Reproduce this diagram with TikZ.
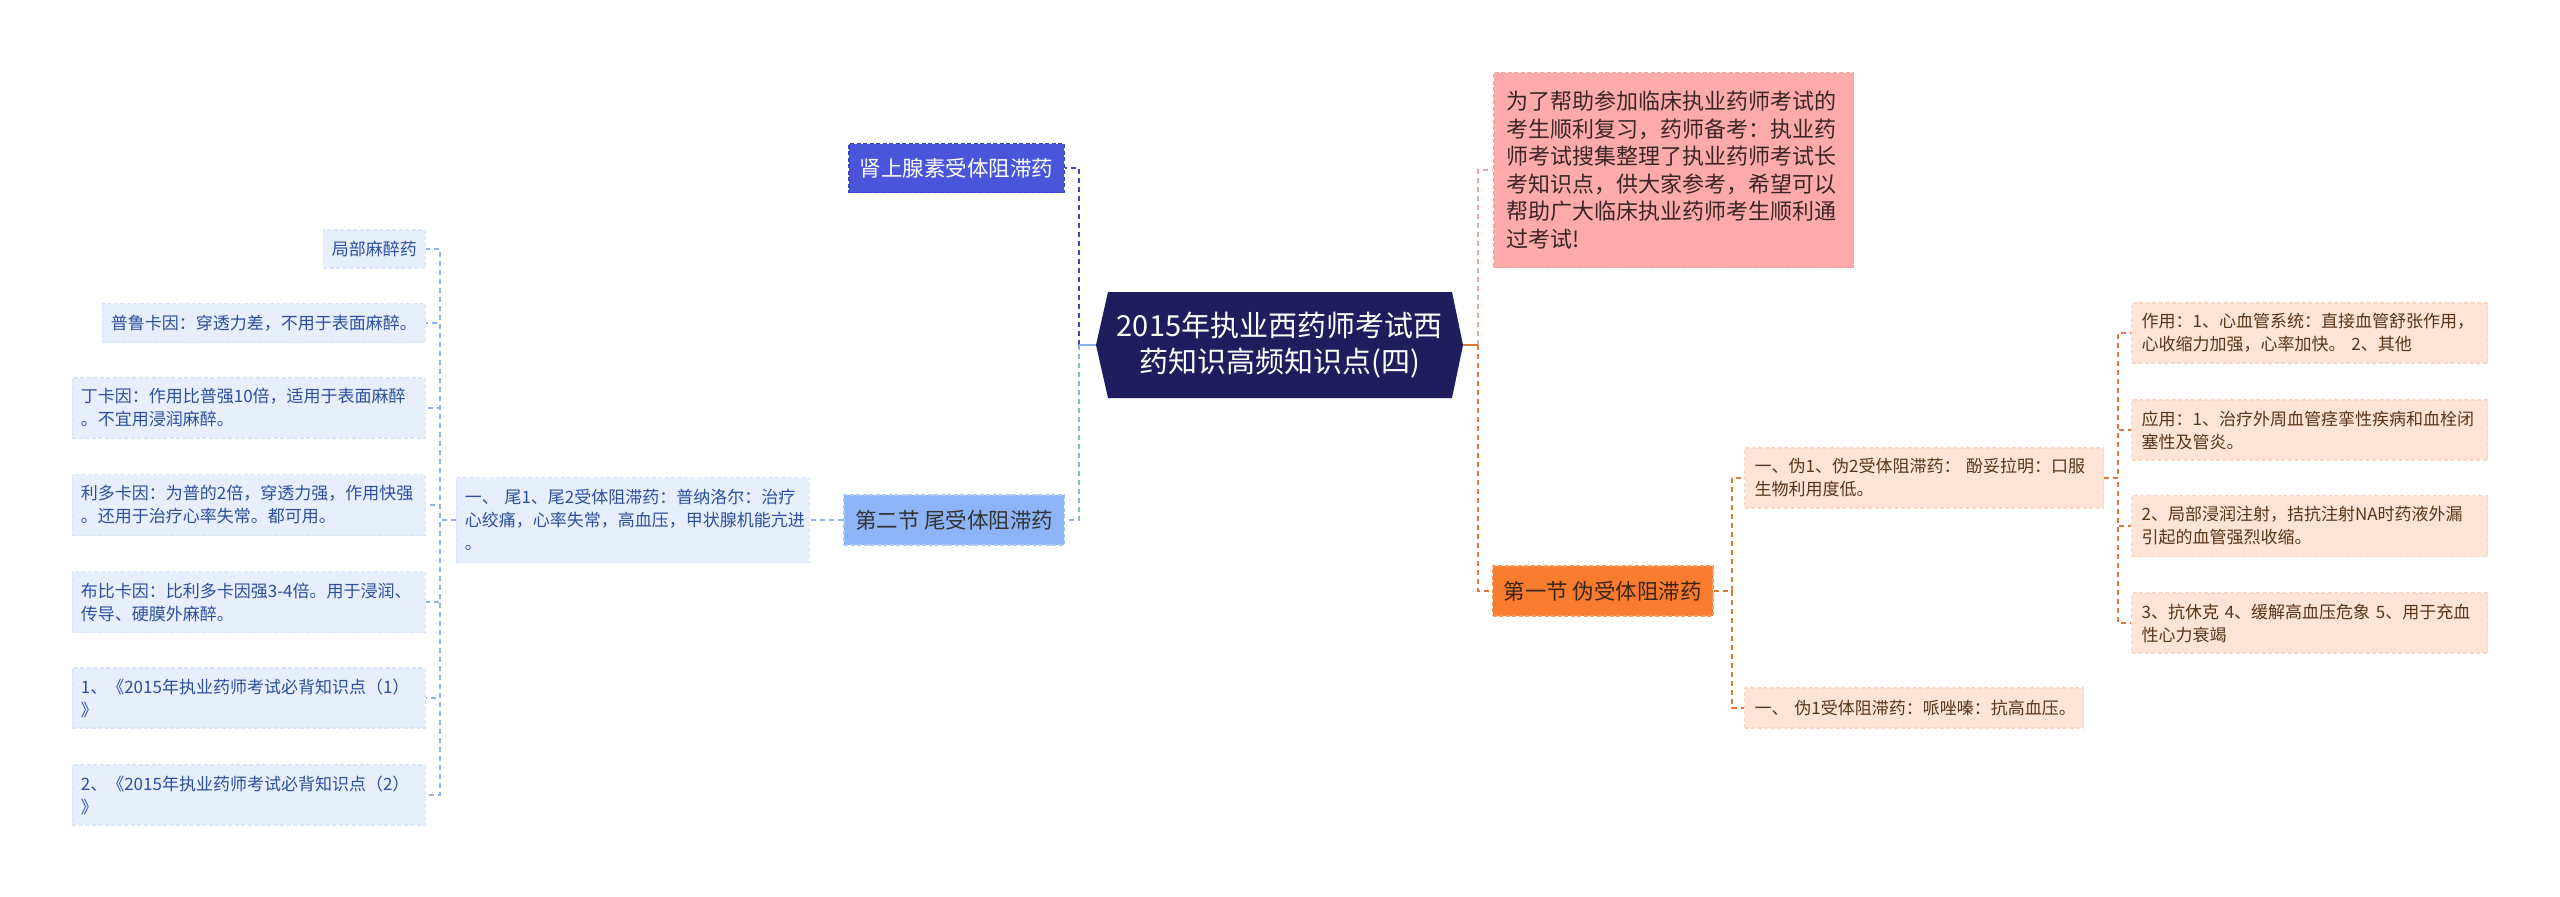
\documentclass[tikz,border=0pt]{standalone}
\usepackage{fontspec}
\setmainfont{Noto Sans CJK SC}
\newcommand{\fcen}{\fontsize{29}{36}\selectfont}
\newcommand{\fmid}{\fontsize{21.5}{27.5}\selectfont}
\newcommand{\fleaf}{\fontsize{17}{23}\selectfont}
\definecolor{cenfill}{HTML}{1F1D5E}
\definecolor{lbfill}{HTML}{E7EFFC}
\definecolor{lbborder}{HTML}{D8E4F9}
\definecolor{lbtext}{HTML}{2D4F9E}
\definecolor{shenfill}{HTML}{4B55DA}
\definecolor{shenborder}{HTML}{3A43BE}
\definecolor{sectwofill}{HTML}{8DB4F7}
\definecolor{sectwoborder}{HTML}{A9C6F8}
\definecolor{introfill}{HTML}{FDAAAA}
\definecolor{introborder}{HTML}{F5A0A0}
\definecolor{introtext}{HTML}{3B2626}
\definecolor{seconefill}{HTML}{F77C2E}
\definecolor{seconeborder}{HTML}{F99A5C}
\definecolor{seconetext}{HTML}{3D2415}
\definecolor{rfill}{HTML}{FDE4D7}
\definecolor{rborder}{HTML}{F8D6C4}
\definecolor{rtext}{HTML}{5A3418}
\definecolor{lnshen}{HTML}{3F47C8}
\definecolor{lnblue}{HTML}{8DB0EE}
\definecolor{lnpink}{HTML}{F4A6A6}
\definecolor{lnorange}{HTML}{E07A3C}
\tikzset{
  conn/.style={line width=2, dash pattern=on 5pt off 4pt},
  stub/.style={line width=2.5},
  boxbase/.style={rectangle, line width=1.3, dash pattern=on 4pt off 2.5pt, inner ysep=3},
  leafL/.style={boxbase, fill=lbfill, draw=lbborder, text=lbtext, font=\fleaf, align=left, inner xsep=8.5, anchor=east},
  leafR/.style={boxbase, fill=rfill, draw=rborder, text=rtext, font=\fleaf, align=left, inner xsep=10, anchor=west},
  midbox/.style={boxbase, font=\fmid, inner xsep=11, minimum height=49}
}
\begin{document}
\begin{tikzpicture}[x=1pt,y=-1pt]
\useasboundingbox (0,0) rectangle (2560,897);
\fill[white] (0,0) rectangle (2560,897);

% center node
\fill[cenfill] (1096,345) -- (1108,292) -- (1452,292) -- (1463,345) -- (1452,398) -- (1108,398) -- cycle;
\node[text=white, font=\fcen, align=center, minimum width=367, minimum height=106, inner sep=0] (cen) at (1279.5,345) {2015年执业西药师考试西\\药知识高频知识点(四)};

% left level 1
\node[midbox, fill=shenfill, draw=shenborder, text=white, anchor=east] (shen) at (1065,168) {肾上腺素受体阻滞药};
\node[midbox, fill=sectwofill, draw=sectwoborder, text=black!80, anchor=east, minimum height=50] (sectwo) at (1065,520) {第二节 尾受体阻滞药};
\node[leafL, text width=336, minimum height=85] (wei) at (810,520) {一、 尾1、尾2受体阻滞药：普纳洛尔：治疗\\心绞痛，心率失常，高血压，甲状腺机能亢进\\。};

% left leaves
\node[leafL, minimum height=38] (l1) at (426,249) {局部麻醉药};
\node[leafL, minimum height=39] (l2) at (426,323) {普鲁卡因：穿透力差，不用于表面麻醉。};
\node[leafL, text width=336, minimum height=60] (l3) at (426,408) {丁卡因：作用比普强10倍，适用于表面麻醉\\。不宜用浸润麻醉。};
\node[leafL, text width=336, minimum height=61] (l4) at (426,505) {利多卡因：为普的2倍，穿透力强，作用快强\\。还用于治疗心率失常。都可用。};
\node[leafL, text width=336, minimum height=61] (l5) at (426,602) {布比卡因：比利多卡因强3-4倍。用于浸润、\\传导、硬膜外麻醉。};
\node[leafL, text width=336, minimum height=60] (l6) at (426,698) {1、《2015年执业药师考试必背知识点（1）\\》};
\node[leafL, text width=336, minimum height=60] (l7) at (426,795) {2、《2015年执业药师考试必背知识点（2）\\》};

% right level 1
\node[midbox, fill=introfill, draw=introborder, text=introtext, anchor=west, align=left, text width=334, inner xsep=13, minimum height=195, font=\fontsize{22}{27.5}\selectfont] (intro) at (1493,170) {为了帮助参加临床执业药师考试的\\考生顺利复习，药师备考：执业药\\师考试搜集整理了执业药师考试长\\考知识点，供大家参考，希望可以\\帮助广大临床执业药师考生顺利通\\过考试!};
\node[midbox, fill=seconefill, draw=seconeborder, text=seconetext, anchor=west, minimum height=50] (secone) at (1492,591) {第一节 伪受体阻滞药};

% right level 2
\node[leafR, text width=339, minimum height=60] (wa) at (1744,478) {一、伪1、伪2受体阻滞药： 酚妥拉明：口服\\生物利用度低。};
\node[leafR, text width=319, minimum height=40] (wb) at (1744,708) {一、 伪1受体阻滞药：哌唑嗪：抗高血压。};

% right leaves
\node[leafR, text width=336, minimum height=60] (r1) at (2131,333) {作用：1、心血管系统：直接血管舒张作用，\\心收缩力加强，心率加快。 2、其他};
\node[leafR, text width=336, minimum height=60] (r2) at (2131,430) {应用：1、治疗外周血管痉挛性疾病和血栓闭\\塞性及管炎。};
\node[leafR, text width=336, minimum height=61] (r3) at (2131,526) {2、局部浸润注射，拮抗注射NA时药液外漏\\引起的血管强烈收缩。};
\node[leafR, text width=336, minimum height=60] (r4) at (2131,623) {3、抗休克 4、缓解高血压危象 5、用于充血\\性心力衰竭};

% connectors from center
\draw[conn, lnshen] (cen.west) ++(-17,0) |- (shen.east);
\draw[conn, lnblue] (cen.west) ++(-17,0) |- (sectwo.east);
\draw[stub, lnblue] (cen.west) -- ++(-17,0);
\draw[conn, lnpink] (cen.east) ++(15,0) |- (intro.west);
\draw[conn, lnorange] (cen.east) ++(15,0) |- (secone.west);
\draw[stub, lnorange] (cen.east) -- ++(15,0);

% left branch
\draw[conn, lnblue] (sectwo.west) -- (wei.east);
\foreach \n in {l1,l2,l3,l4,l5,l6,l7}
  \draw[conn, lnblue] (wei.west) -- ++(-16,0) |- (\n.east);

% right branch
\foreach \n in {wa,wb}
  \draw[conn, lnorange] (secone.east) -- ++(18,0) |- (\n.west);
\foreach \n in {r1,r2,r3,r4}
  \draw[conn, lnorange] (wa.east) -- ++(14,0) |- (\n.west);
\end{tikzpicture}
\end{document}
